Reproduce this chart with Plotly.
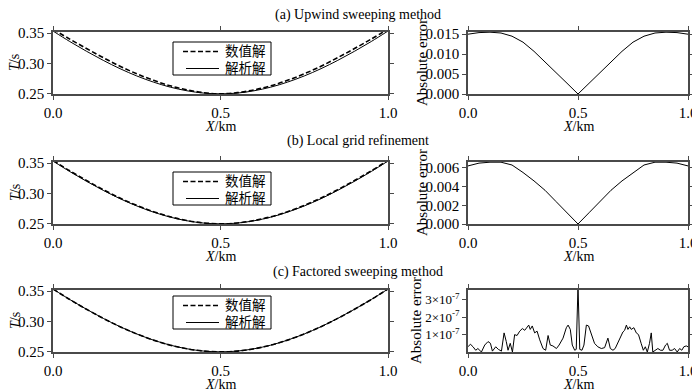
import plotly.graph_objects as go

# ---------------- data ----------------
X = [0.00, 0.05, 0.10, 0.15, 0.20, 0.25, 0.30, 0.35, 0.40, 0.45, 0.50,
     0.55, 0.60, 0.65, 0.70, 0.75, 0.80, 0.85, 0.90, 0.95, 1.00]

T_exact = [0.3536, 0.3363, 0.3202, 0.3052, 0.2915, 0.2795, 0.2693, 0.2610, 0.2550, 0.2512, 0.2500,
           0.2512, 0.2550, 0.2610, 0.2693, 0.2795, 0.2915, 0.3052, 0.3202, 0.3363, 0.3536]

T_upwind = [0.3566, 0.3403, 0.3247, 0.3097, 0.2955, 0.2830, 0.2723, 0.2632, 0.2565, 0.2519, 0.2500,
            0.2519, 0.2565, 0.2632, 0.2723, 0.2830, 0.2955, 0.3097, 0.3247, 0.3403, 0.3566]

T_local = [0.3546, 0.3375, 0.3214, 0.3064, 0.2925, 0.2804, 0.2701, 0.2616, 0.2554, 0.2514, 0.2500,
           0.2514, 0.2554, 0.2616, 0.2701, 0.2804, 0.2925, 0.3064, 0.3214, 0.3375, 0.3546]

T_factored = [0.3536, 0.3363, 0.3202, 0.3052, 0.2915, 0.2795, 0.2693, 0.2610, 0.2550, 0.2512, 0.2500,
              0.2512, 0.2550, 0.2610, 0.2693, 0.2795, 0.2915, 0.3052, 0.3202, 0.3363, 0.3536]

err_upwind = [0.0150, 0.0154, 0.0155, 0.0153, 0.0145, 0.0130, 0.0107, 0.0081, 0.0054, 0.0027, 0.0000,
              0.0027, 0.0054, 0.0081, 0.0107, 0.0130, 0.0145, 0.0153, 0.0155, 0.0154, 0.0150]

err_local = [0.0062, 0.0065, 0.0066, 0.0066, 0.0063, 0.0055, 0.0046, 0.0036, 0.0024, 0.0012, 0.0000,
             0.0012, 0.0024, 0.0036, 0.0046, 0.0055, 0.0063, 0.0066, 0.0066, 0.0065, 0.0062]

Xc = [0.000, 0.011, 0.023, 0.035, 0.045, 0.061, 0.076, 0.091, 0.102, 0.111, 0.126, 0.138, 0.152,
      0.164, 0.174, 0.182, 0.192, 0.202, 0.212, 0.223, 0.235, 0.247, 0.258, 0.268, 0.276, 0.283,
      0.292, 0.303, 0.314, 0.326, 0.341, 0.353, 0.364, 0.374, 0.386, 0.402, 0.414, 0.432, 0.447,
      0.455, 0.465, 0.474, 0.485, 0.492, 0.500, 0.508, 0.518, 0.527, 0.538, 0.548, 0.560, 0.575,
      0.590, 0.606, 0.621, 0.636, 0.647, 0.659, 0.669, 0.681, 0.694, 0.704, 0.712, 0.720, 0.727,
      0.735, 0.742, 0.754, 0.765, 0.775, 0.787, 0.797, 0.806, 0.815, 0.825, 0.833, 0.840, 0.851,
      0.863, 0.875, 0.886, 0.898, 0.906, 0.916, 0.928, 0.939, 0.951, 0.962, 0.972, 0.981, 0.992, 1.000]

err_factored = [0.30, 0.45, 0.30, 0.10, 0.20, 0.00, 0.40, 0.60, 0.50, 0.05, 0.30, 0.15, 0.05,
                1.10, 0.60, 0.10, 0.50, 0.00, 1.00, 0.95, 1.20, 1.35, 1.25, 1.40, 1.55, 1.30,
                1.50, 1.10, 1.20, 0.70, 0.20, 0.10, 0.95, 0.40, 0.35, 0.20, 0.40, 0.80, 1.40,
                1.55, 1.30, 0.40, 0.10, 0.15, 3.80, 0.15, 0.10, 0.40, 1.55, 1.50, 1.00, 0.50,
                0.30, 0.20, 0.25, 0.80, 0.20, 0.10, 0.20, 0.50, 0.90, 1.15, 1.25, 1.55, 1.30,
                1.45, 1.30, 1.40, 1.10, 1.00, 0.50, 0.10, 0.30, 0.00, 0.50, 1.10, 0.00, 0.10,
                0.20, 0.10, 0.10, 0.40, 0.50, 0.10, 0.10, 0.20, 0.00, 0.20, 0.10, 0.30, 0.35, 0.30]
err_factored = [v * 1e-7 for v in err_factored]

titles = ["(a) Upwind sweeping method", "(b) Local grid refinement", "(c) Factored sweeping method"]
legend_names = ["数值解", "解析解"]
x_ticks = [0.0, 0.5, 1.0]
t_ticks = [0.25, 0.30, 0.35]
err_c_ticks = [1e-7, 2e-7, 3e-7]
err_c_ticktext = ["1×10<sup>-7</sup>", "2×10<sup>-7</sup>", "3×10<sup>-7</sup>"]

# ---------------- layout geometry ----------------
# the page body has an 8px margin, so the figure is drawn 8px right/down
OFF = 8
W, H = 700 - OFF, 391 - OFF
SERIF = "Liberation Serif, Times New Roman, serif"
CJK = "Liberation Serif, Noto Sans CJK SC, serif"
AXC = "#4a4a4a"
DASH = "5px,2.5px"


def px(x):
    return (x - OFF) / W


def py(y):
    return 1 - (y - OFF) / H


rows = [(32, 94), (162, 224), (290, 352)]
legend_tops = [42, 172, 296]
left_dom = [px(53), px(388)]
right_dom = [px(468), px(688)]

fig = go.Figure()

numeric = [T_upwind, T_local, T_factored]
errs = [err_upwind, err_local, err_factored]

for i in range(3):
    xl = "x" if i == 0 else f"x{2*i+1}"
    yl = "y" if i == 0 else f"y{2*i+1}"
    xr = f"x{2*i+2}"
    yr = f"y{2*i+2}"
    fig.add_trace(go.Scatter(x=X, y=T_exact, mode="lines", name=legend_names[1], showlegend=False,
                             line=dict(color="black", width=1, shape="spline"),
                             xaxis=xl, yaxis=yl))
    fig.add_trace(go.Scatter(x=X, y=numeric[i], mode="lines", name=legend_names[0], showlegend=False,
                             line=dict(color="black", width=1.6, dash=DASH, shape="spline"),
                             xaxis=xl, yaxis=yl))
    ex = Xc if i == 2 else X
    fig.add_trace(go.Scatter(x=ex, y=errs[i], mode="lines", showlegend=False,
                             line=dict(color="black", width=1),
                             xaxis=xr, yaxis=yr))

axis_common = dict(showline=True, linecolor=AXC, linewidth=1.5, mirror="ticks",
                   ticks="outside", ticklen=4, tickwidth=1, tickcolor=AXC,
                   showgrid=False, zeroline=False, automargin=False,
                   tickfont=dict(family=SERIF, size=15, color="black"))

layout = dict(width=W, height=H, margin=dict(l=0, r=0, t=0, b=0, autoexpand=False),
              paper_bgcolor="white", plot_bgcolor="white", showlegend=False)

right_ranges = [[0, 0.01555], [0, 0.00662], [0, 3.57e-7]]

for i, (top, bot) in enumerate(rows):
    dom = [py(bot), py(top)]
    li = 2 * i + 1
    ri = 2 * i + 2
    xk_l = "xaxis" if li == 1 else f"xaxis{li}"
    yk_l = "yaxis" if li == 1 else f"yaxis{li}"
    layout[xk_l] = dict(axis_common, domain=left_dom, range=[0, 1], tickvals=x_ticks,
                        tickformat=".1f", anchor="y" if li == 1 else f"y{li}")
    layout[yk_l] = dict(axis_common, domain=dom, range=[0.2497, 0.352], tickvals=t_ticks,
                        tickformat=".2f", anchor="x" if li == 1 else f"x{li}")
    layout[f"xaxis{ri}"] = dict(axis_common, domain=right_dom, range=[0, 1], tickvals=x_ticks,
                                tickformat=".1f", anchor=f"y{ri}")
    ycfg = dict(axis_common, domain=dom, range=right_ranges[i], anchor=f"x{ri}")
    if i == 0:
        ycfg.update(tickvals=[0, 0.005, 0.010, 0.015], tickformat=".3f")
    elif i == 1:
        ycfg.update(tickvals=[0, 0.002, 0.004, 0.006], tickformat=".3f")
    else:
        ycfg.update(tickvals=err_c_ticks, ticktext=err_c_ticktext,
                    tickfont=dict(family=SERIF, size=13, color="black"))
    layout[f"yaxis{ri}"] = ycfg

fig.update_layout(**layout)

ann = []
shapes = []
title_y = [15, 141, 272]
abs_x = [422, 422, 416]
for i, (top, bot) in enumerate(rows):
    ann.append(dict(text=titles[i], x=px(358), y=py(title_y[i]), xref="paper", yref="paper",
                    showarrow=False, xanchor="center", yanchor="middle",
                    font=dict(family=SERIF, size=14, color="black")))
    for cx in [(53 + 388) / 2, (468 + 688) / 2]:
        ann.append(dict(text="<i>X</i>/km", x=px(cx), y=py(bot + 32), xref="paper", yref="paper",
                        showarrow=False, xanchor="center", yanchor="middle",
                        font=dict(family=SERIF, size=14, color="black")))
    ann.append(dict(text="<i>T</i>/s", x=px(15), y=py((top + bot) / 2), xref="paper", yref="paper",
                    showarrow=False, textangle=-90, xanchor="center", yanchor="middle",
                    font=dict(family=SERIF, size=14, color="black")))
    ann.append(dict(text="Absolute error", x=px(abs_x[i]), y=py((top + bot) / 2), xref="paper",
                    yref="paper", showarrow=False, textangle=-90, xanchor="center",
                    yanchor="middle", font=dict(family=SERIF, size=15, color="black")))

    # legend box (numerical = dashed, analytic = solid)
    lt = legend_tops[i]
    shapes.append(dict(type="rect", xref="paper", yref="paper",
                       x0=px(173), x1=px(271), y0=py(lt + 33), y1=py(lt),
                       line=dict(color="black", width=1), fillcolor="white", layer="above"))
    r1, r2 = lt + 9.5, lt + 26.5
    shapes.append(dict(type="line", xref="paper", yref="paper",
                       x0=px(183), x1=px(220), y0=py(r1), y1=py(r1),
                       line=dict(color="black", width=1.6, dash=DASH), layer="above"))
    shapes.append(dict(type="line", xref="paper", yref="paper",
                       x0=px(186), x1=px(219), y0=py(r2), y1=py(r2),
                       line=dict(color="black", width=1), layer="above"))
    for name, ry in zip(legend_names, [r1, r2]):
        ann.append(dict(text=name, x=px(223), y=py(ry), xref="paper", yref="paper",
                        showarrow=False, xanchor="left", yanchor="middle",
                        font=dict(family=CJK, size=13.5, color="black")))

fig.update_layout(annotations=ann, shapes=shapes)

fig.write_html("out.html")
